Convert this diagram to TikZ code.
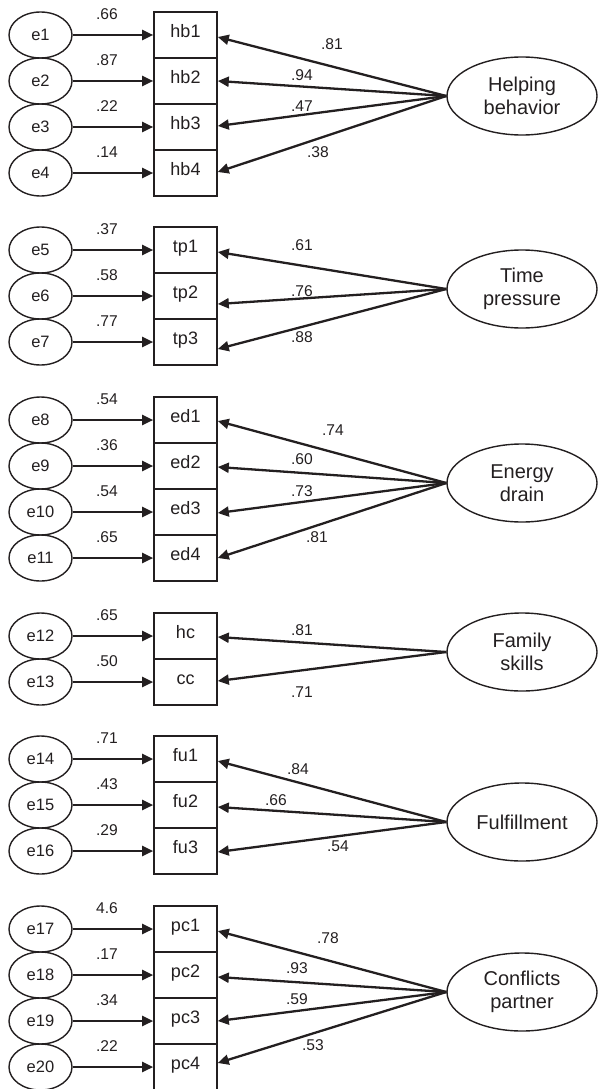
\documentclass[tikz,border=0pt]{standalone}
\usepackage{fontspec}
\setmainfont{Liberation Sans}
\usetikzlibrary{arrows.meta,shapes.geometric}
\definecolor{ink}{HTML}{231F20}
\begin{document}
\begin{tikzpicture}[x=1pt,y=-1pt,
  ind/.style={draw=ink,line width=1.6pt,minimum width=63pt,minimum height=46pt,inner sep=0pt,
    font=\fontsize{18}{20}\selectfont,text height=10pt,text depth=5pt,text=ink},
  err/.style={ellipse,draw=ink,line width=1.4pt,minimum width=63pt,minimum height=46pt,inner sep=0pt,
    font=\fontsize{16.5}{18}\selectfont,text height=11pt,text depth=0pt,text=ink},
  fac/.style={ellipse,draw=ink,line width=1.4pt,minimum width=150pt,minimum height=78pt,inner sep=0pt,
    align=center,font=\fontsize{20}{23}\selectfont,text=ink},
  val/.style={inner sep=0pt,font=\fontsize{15.6}{17}\selectfont,text height=11pt,text depth=0pt,text=ink},
  link/.style={draw=ink,line width=2.3pt,-{Triangle[length=11pt,width=10pt]}}
]
\useasboundingbox (0,0) rectangle (597,1089);

% indicators, error terms, error loadings
\foreach \n/\y/\e/\v in {
  hb1/35/1/.66, hb2/81/2/.87, hb3/127/3/.22, hb4/173/4/.14,
  tp1/250/5/.37, tp2/296/6/.58, tp3/342/7/.77,
  ed1/420/8/.54, ed2/466/9/.36, ed3/512/10/.54, ed4/558/11/.65,
  hc/636/12/.65, cc/682/13/.50,
  fu1/759/14/.71, fu2/805/15/.43, fu3/851/16/.29,
  pc1/929/17/4.6, pc2/975/18/.17, pc3/1021/19/.34, pc4/1067/20/.22}
{
  \node[ind] (\n) at (185.5,\y) {\n};
  \node[err] (e\e) at (40.5,\y) {e\e};
  \draw[link] (e\e) -- (\n);
  \node[val] (v\e) at (107,\y-21) {\v};
}

% latent factors
\node[fac] (HB) at (522,96)  {Helping\\behavior};
\node[fac] (TP) at (522,289) {Time\\pressure};
\node[fac] (ED) at (522,483) {Energy\\drain};
\node[fac] (FS) at (522,652) {Family\\skills};
\node[fac] (FU) at (522,822) {Fulfillment};
\node[fac] (CP) at (522,992) {Conflicts\\partner};

% factor loadings
\draw[link] (HB.west) -- ([yshift=-2pt]hb1.east);
\draw[link] (HB.west) -- (hb2.east);
\draw[link] (HB.west) -- ([yshift=1pt]hb3.east);
\draw[link] (HB.west) -- ([yshift=1pt]hb4.east);
\node[val] (lhb1) at (332,44) {.81};
\node[val] (lhb2) at (302,75) {.94};
\node[val] (lhb3) at (302,106) {.47};
\node[val] (lhb4) at (318,152) {.38};

\draw[link] (TP.west) -- ([yshift=-2pt]tp1.east);
\draw[link] (TP.west) -- ([yshift=-8pt]tp2.east);
\draw[link] (TP.west) -- ([yshift=-7pt]tp3.east);
\node[val] (ltp1) at (302,245) {.61};
\node[val] (ltp2) at (302,291) {.76};
\node[val] (ltp3) at (302,337) {.88};

\draw[link] (ED.west) -- ([yshift=-1pt]ed1.east);
\draw[link] (ED.west) -- ([yshift=-1pt]ed2.east);
\draw[link] (ED.west) -- ([yshift=-1pt]ed3.east);
\draw[link] (ED.west) -- (ed4.east);
\node[val] (led1) at (333,430) {.74};
\node[val] (led2) at (302,459) {.60};
\node[val] (led3) at (302,491) {.73};
\node[val] (led4) at (317,537) {.81};

\draw[link] (FS.west) -- ([yshift=-1pt]hc.east);
\draw[link] (FS.west) -- ([yshift=1pt]cc.east);
\node[val] (lhc) at (302,630) {.81};
\node[val] (lcc) at (302,692) {.71};

\draw[link] (FU.west) -- ([yshift=-2pt]fu1.east);
\draw[link] (FU.west) -- ([yshift=-2pt]fu2.east);
\draw[link] (FU.west) -- ([yshift=-1pt]fu3.east);
\node[val] (lfu1) at (298,769) {.84};
\node[val] (lfu2) at (276,800) {.66};
\node[val] (lfu3) at (338,846) {.54};

\draw[link] (CP.west) -- ([yshift=-2pt]pc1.east);
\draw[link] (CP.west) -- ([yshift=-2pt]pc2.east);
\draw[link] (CP.west) -- (pc3.east);
\draw[link] (CP.west) -- ([yshift=4pt]pc4.east);
\node[val] (lpc1) at (328,938) {.78};
\node[val] (lpc2) at (297,968) {.93};
\node[val] (lpc3) at (297,999) {.59};
\node[val] (lpc4) at (313,1045) {.53};
\end{tikzpicture}
\end{document}
